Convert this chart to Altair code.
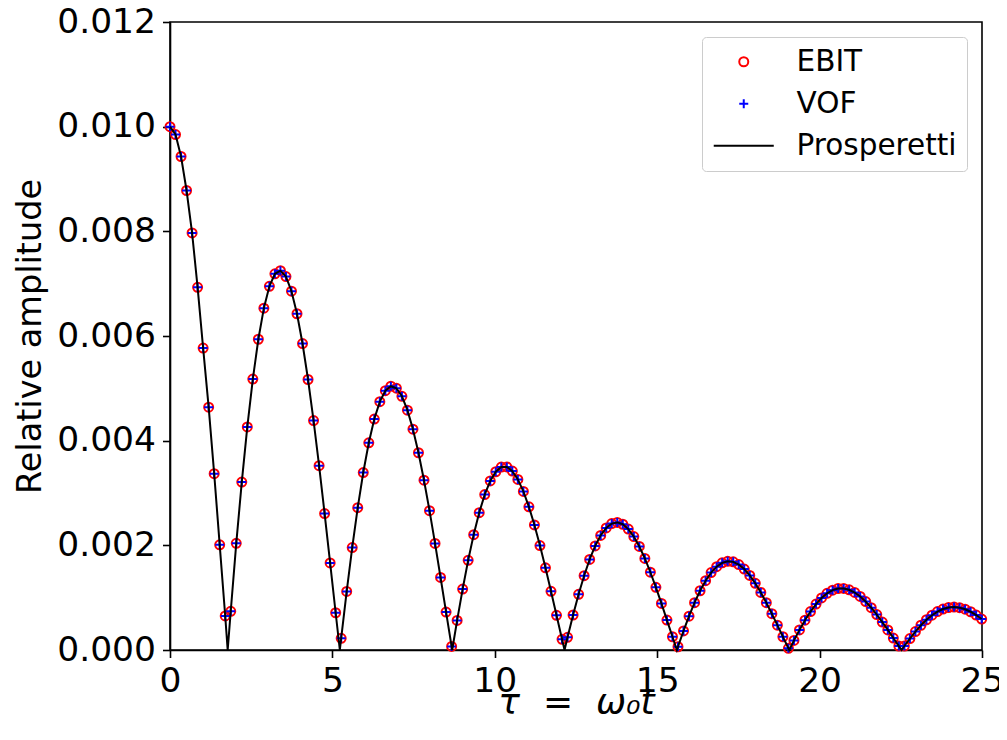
import altair as alt
import pandas as pd

# sample times (tau = omega0 * t) of the simulation outputs
tau = [0.00, 0.17, 0.34, 0.51, 0.68, 0.85, 1.02, 1.19, 1.36, 1.53,
       1.70, 1.87, 2.04, 2.21, 2.38, 2.55, 2.72, 2.89, 3.06, 3.23,
       3.40, 3.57, 3.74, 3.91, 4.08, 4.25, 4.42, 4.59, 4.76, 4.93,
       5.10, 5.27, 5.44, 5.61, 5.78, 5.95, 6.12, 6.29, 6.46, 6.63,
       6.80, 6.97, 7.14, 7.31, 7.48, 7.65, 7.82, 7.99, 8.16, 8.33,
       8.50, 8.67, 8.84, 9.01, 9.18, 9.35, 9.52, 9.69, 9.86, 10.03,
       10.20, 10.37, 10.54, 10.71, 10.88, 11.05, 11.22, 11.39, 11.56, 11.73,
       11.90, 12.07, 12.24, 12.41, 12.58, 12.75, 12.92, 13.09, 13.26, 13.43,
       13.60, 13.77, 13.94, 14.11, 14.28, 14.45, 14.62, 14.79, 14.96, 15.13,
       15.30, 15.47, 15.64, 15.81, 15.98, 16.15, 16.32, 16.49, 16.66, 16.83,
       17.00, 17.17, 17.34, 17.51, 17.68, 17.85, 18.02, 18.19, 18.36, 18.53,
       18.70, 18.87, 19.04, 19.21, 19.38, 19.55, 19.72, 19.89, 20.06, 20.23,
       20.40, 20.57, 20.74, 20.91, 21.08, 21.25, 21.42, 21.59, 21.76, 21.93,
       22.10, 22.27, 22.44, 22.61, 22.78, 22.95, 23.12, 23.29, 23.46, 23.63,
       23.80, 23.97, 24.14, 24.31, 24.48, 24.65, 24.82, 24.99]

# EBIT relative amplitude
ebit = [0.010000, 0.009850, 0.009430, 0.008780, 0.007970, 0.006930, 0.005770, 0.004640, 0.003370, 0.002010,
        0.000650, 0.000740, 0.002038, 0.003208, 0.004262, 0.005177, 0.005938, 0.006532, 0.006949, 0.007188,
        0.007248, 0.007135, 0.006856, 0.006425, 0.005856, 0.005169, 0.004384, 0.003522, 0.002607, 0.001663,
        0.000712, 0.000223, 0.001119, 0.001957, 0.002720, 0.003391, 0.003959, 0.004413, 0.004746, 0.004955,
        0.005040, 0.005002, 0.004848, 0.004583, 0.004220, 0.003769, 0.003245, 0.002662, 0.002037, 0.001386,
        0.000724, 0.000069, 0.000566, 0.001164, 0.001714, 0.002204, 0.002625, 0.002969, 0.003230, 0.003406,
        0.003495, 0.003498, 0.003418, 0.003260, 0.003030, 0.002736, 0.002389, 0.001996, 0.001570, 0.001122,
        0.000663, 0.000205, 0.000243, 0.000669, 0.001064, 0.001420, 0.001730, 0.001988, 0.002190, 0.002333,
        0.002416, 0.002438, 0.002403, 0.002311, 0.002168, 0.001979, 0.001749, 0.001486, 0.001197, 0.000890,
        0.000572, 0.000253, 0.000062, 0.000364, 0.000647, 0.000905, 0.001132, 0.001324, 0.001479, 0.001592,
        0.001665, 0.001695, 0.001684, 0.001633, 0.001546, 0.001425, 0.001274, 0.001099, 0.000904, 0.000694,
        0.000475, 0.000253, 0.000032, 0.000182, 0.000384, 0.000569, 0.000735, 0.000877, 0.000994, 0.001083,
        0.001144, 0.001175, 0.001177, 0.001151, 0.001099, 0.001023, 0.000925, 0.000808, 0.000677, 0.000534,
        0.000384, 0.000229, 0.000075, 0.000076, 0.000219, 0.000353, 0.000473, 0.000578, 0.000665, 0.000734,
        0.000783, 0.000812, 0.000820, 0.000809, 0.000779, 0.000731, 0.000668, 0.000592]

# VOF relative amplitude (coincides with EBIT at this scale)
vof = list(ebit)

# Prosperetti analytical solution: same samples plus its zero crossings
prosp_zero_tau = [1.776, 5.229, 8.688, 12.147, 15.606, 19.065, 22.524]
prosp_zero_amp = [0.0, 0.0, 0.0, 0.0, 0.0, 0.0, 0.0]

series_names = ["EBIT", "VOF", "Prosperetti"]
series_colors = ["#ff0000", "#0000ff", "#000000"]
series_shapes = ["circle", "M-1,0L1,0M0,-1L0,1", "M-6.67,0L6.67,0"]

x_ticks = [0, 5, 10, 15, 20, 25]
y_ticks = [0.000, 0.002, 0.004, 0.006, 0.008, 0.010, 0.012]

FONT = "DejaVu Sans"
NB = "\u00a0"

pts = pd.DataFrame({
    "tau": tau + tau,
    "amp": ebit + vof,
    "series": ["EBIT"] * len(tau) + ["VOF"] * len(tau),
})
line_df = pd.DataFrame({
    "tau": tau + prosp_zero_tau,
    "amp": ebit + prosp_zero_amp,
}).sort_values("tau").reset_index(drop=True)

x_title = "τ" + NB * 2 + "=" + NB * 2 + "ω₀t"

x_enc = alt.X("tau:Q",
              scale=alt.Scale(domain=[0, 25], nice=False, zero=False),
              axis=alt.Axis(values=x_ticks, format="d", title=x_title,
                            titleFontStyle="italic", titleFontSize=36,
                            titleX=406, titleY=63,
                            titleBaseline="alphabetic", titleAlign="center"))
y_enc = alt.Y("amp:Q",
              scale=alt.Scale(domain=[0, 0.012], nice=False),
              axis=alt.Axis(values=y_ticks, format=".3f", title="Relative amplitude",
                            titleX=-130, titleY=314, titleAngle=270,
                            titleBaseline="alphabetic", titleAlign="center"))

legend = alt.Legend(title=None, orient="top-right", offset=15, padding=10,
                    fillColor="white", strokeColor="#cccccc", cornerRadius=4,
                    labelFont=FONT, labelFontSize=29.5, labelColor="black",
                    labelLimit=400,
                    symbolSize=81, symbolStrokeWidth=2.0, rowPadding=11,
                    labelOffset=38, symbolOffset=17, symbolOpacity=1)

points = alt.Chart(pts).mark_point(filled=False, size=81, strokeWidth=2.0,
                                   opacity=1).encode(
    x=x_enc,
    y=y_enc,
    color=alt.Color("series:N", sort=series_names,
                    scale=alt.Scale(domain=series_names, range=series_colors),
                    legend=legend),
    shape=alt.Shape("series:N", sort=series_names,
                    scale=alt.Scale(domain=series_names, range=series_shapes),
                    legend=legend),
    order=alt.Order("series:N"),
)

line = alt.Chart(line_df).mark_line(color="black", strokeWidth=2.0).encode(
    x=alt.X("tau:Q"),
    y=alt.Y("amp:Q"),
    order=alt.Order("tau:Q"),
)

chart = alt.layer(points, line).properties(
    width=812,
    height=628,
    autosize=alt.AutoSizeParams(type="none"),
    padding={"left": 162, "top": 14, "right": 17, "bottom": 78},
).configure_view(
    stroke="black", strokeWidth=1.6
).configure_axis(
    grid=False,
    labelFont=FONT, labelFontSize=34.5, labelColor="black", labelFlush=False,
    titleFont=FONT, titleFontSize=33.5, titleColor="black", titleFontWeight="normal",
    domainColor="black", domainWidth=1.6,
    tickColor="black", tickWidth=1.6, tickSize=7.5,
    labelPadding=7,
)

chart.save("out.html", embed_options={"renderer": "svg", "actions": False})
